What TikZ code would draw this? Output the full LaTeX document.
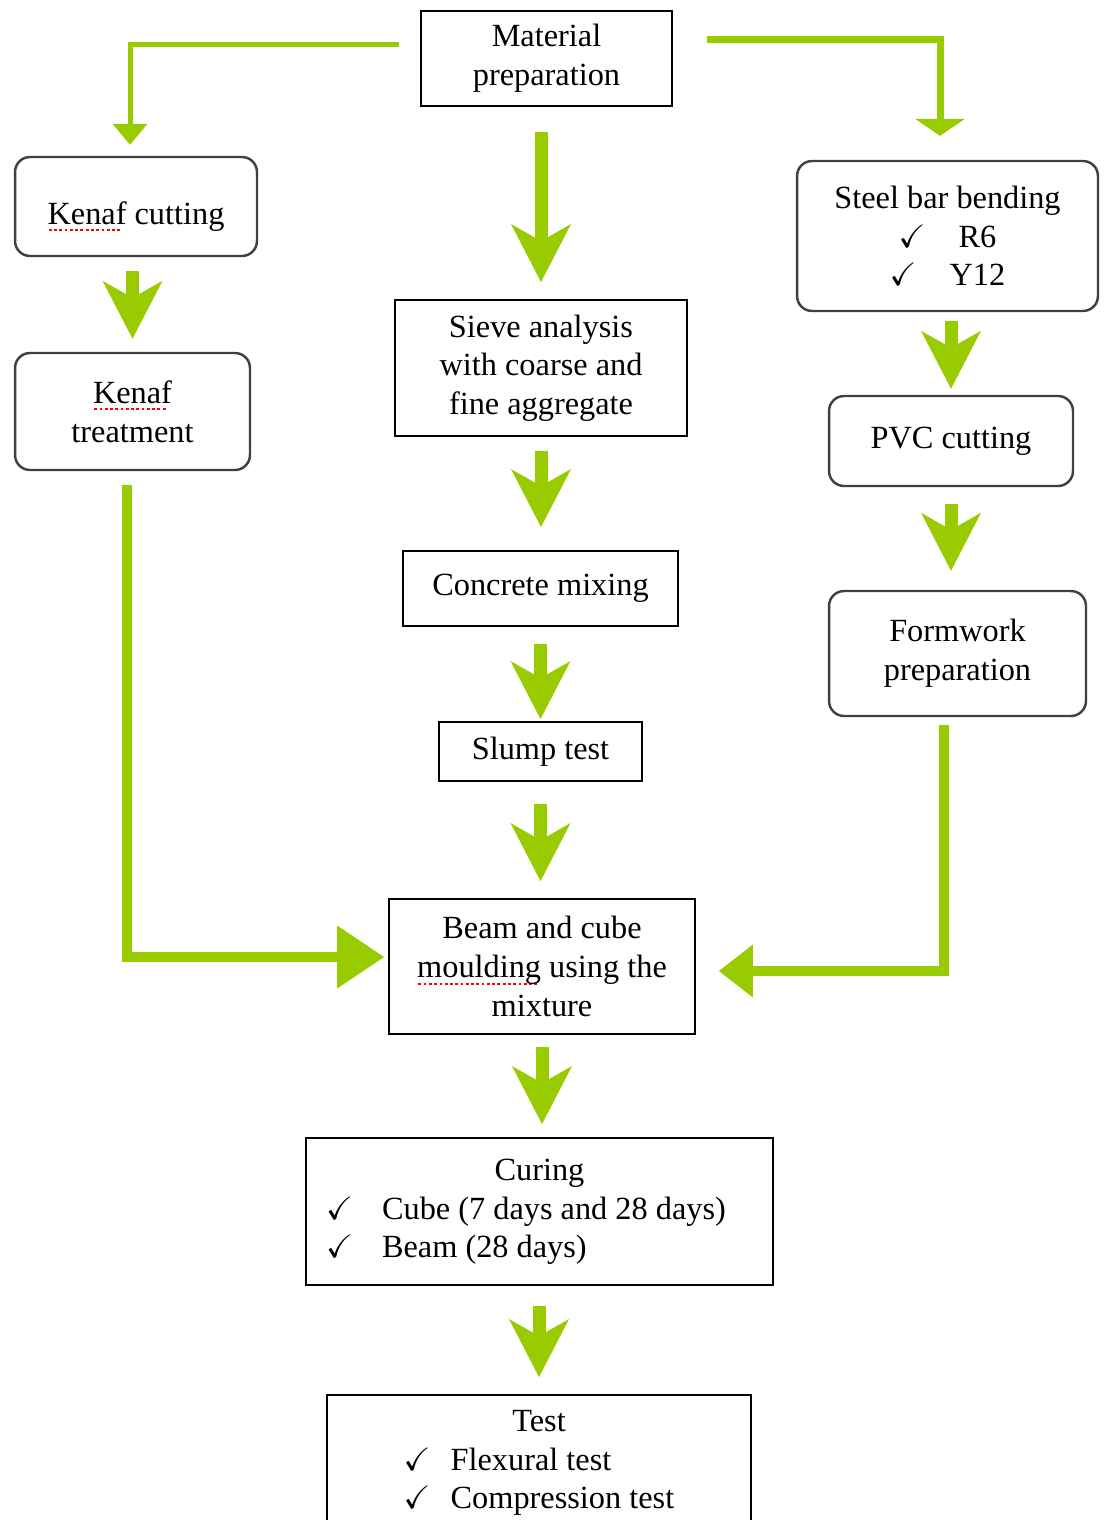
\documentclass[tikz,border=0pt]{standalone}
\usepackage{fontspec}
\setmainfont{Liberation Serif}
\usepackage{amssymb}
\usetikzlibrary{arrows.meta}

\definecolor{flowgreen}{RGB}{153,204,0}
\definecolor{boxgray}{RGB}{64,64,64}

\newcommand\spellwave[1]{\setbox0=\hbox{#1}\rlap{\raisebox{-4pt}{\color{red}\hbox to \wd0{\leaders\hbox to 3pt{\hss\rule{1.6pt}{1.1pt}\hss}\hfill}}}\box0\relax}

\begin{document}
\begin{tikzpicture}[x=0.02cm,y=-0.02cm,
    box/.style={draw=black,line width=1.1pt,align=center,inner sep=0pt,font=\fontsize{18.4}{22}\selectfont},
    rbox/.style={box,draw=boxgray,line width=1.4pt,rounded corners=0.3cm},
    flow/.style={draw=flowgreen,line width=0.26cm,-{Stealth[length=1.16cm,width=1.2cm,inset=0.34cm,line width=0pt]}},
    elbow/.style={draw=flowgreen,line width=0.2cm}]

    \useasboundingbox (0,0) rectangle (1107,1520);

    % middle column
    \node[box,minimum width=5.02cm,minimum height=1.9cm] (mat) at (546.5,58.5) {Material\\preparation};
    \node[box,minimum width=5.84cm,minimum height=2.72cm] (sieve) at (541,368) {Sieve analysis\\with coarse and\\fine aggregate};
    \node[box,minimum width=5.5cm,minimum height=1.5cm] (mix) at (540.5,588.5) {Concrete mixing};
    \node[box,minimum width=4.06cm,minimum height=1.18cm] (slump) at (540.5,751.5) {Slump test};
    \node[box,minimum width=6.12cm,minimum height=2.7cm] (beam) at (542,966.5) {Beam and cube\\\spellwave{moulding} using the\\mixture};
    \node[box,minimum width=9.34cm,minimum height=2.94cm] (cure) at (539.5,1211.5) {\begin{tabular}{@{}l@{\hspace{0.54cm}}}\multicolumn{1}{@{}c@{\hspace{0.54cm}}}{\hspace{0.54cm}Curing}\\$\checkmark$\hspace{0.58cm}Cube (7 days and 28 days)\\$\checkmark$\hspace{0.58cm}Beam (28 days)\end{tabular}};
    \node[box,minimum width=8.48cm,minimum height=2.7cm] (test) at (539,1462.5) {\begin{tabular}{@{}l@{}}\multicolumn{1}{@{}c@{}}{Test}\\$\checkmark$\hspace{0.4cm}Flexural test\\$\checkmark$\hspace{0.4cm}Compression test\end{tabular}};

    % left column
    \node[rbox,minimum width=4.84cm,minimum height=1.98cm,text height=24pt] (kcut) at (136,206.5) {\spellwave{Kenaf} cutting};
    \node[rbox,minimum width=4.7cm,minimum height=2.34cm] (ktreat) at (132.5,411.5) {\spellwave{Kenaf}\\treatment};

    % right column
    \node[rbox,minimum width=6.02cm,minimum height=3cm] (steel) at (947.5,236) {Steel bar bending\\$\checkmark$\hspace{0.66cm}R6\\$\checkmark$\hspace{0.66cm}Y12};
    \node[rbox,minimum width=4.88cm,minimum height=1.8cm] (pvc) at (951,441) {PVC cutting};
    \node[rbox,minimum width=5.14cm,minimum height=2.5cm] (form) at (957.5,653.5) {Formwork\\preparation};

    % short arrows
    \draw[flow,shorten <=0.5cm,shorten >=0.34cm] (mat.south -| sieve.north) -- (sieve.north);
    \draw[flow,shorten <=0.28cm,shorten >=0.46cm] (sieve.south) -- (sieve.south |- mix.north);
    \draw[flow,shorten <=0.34cm,shorten >=0.04cm] (mix.south) -- (mix.south |- slump.north);
    \draw[flow,shorten <=0.44cm,shorten >=0.34cm] (slump.south) -- (slump.south |- beam.north);
    \draw[flow,shorten <=0.24cm,shorten >=0.26cm] (beam.south) -- (beam.south |- cure.north);
    \draw[flow,shorten <=0.4cm,shorten >=0.34cm] (cure.south -| test.north) -- (test.north);
    \draw[flow,shorten <=0.28cm,shorten >=0.26cm] (kcut.south -| ktreat.north) -- (ktreat.north);
    \draw[flow,shorten <=0.18cm,shorten >=0.12cm] (pvc.north |- steel.south) -- (pvc.north);
    \draw[flow,shorten <=0.34cm,shorten >=0.38cm] (pvc.south) -- (pvc.south |- form.north);

    % elbow arrows
    \draw[elbow,line width=0.1cm,-{Triangle[length=0.42cm,width=0.7cm,line width=0pt]}] ([xshift=-0.42cm,yshift=0.27cm]mat.west) -| ([xshift=-0.12cm,yshift=0.22cm]kcut.north);
    \draw[elbow,line width=0.14cm,-{Triangle[length=0.34cm,width=1cm,line width=0pt]}] ([xshift=0.68cm,yshift=0.37cm]mat.east) -| ([xshift=-0.15cm,yshift=0.48cm]steel.north);
    \draw[elbow,-{Triangle[length=0.94cm,width=1.26cm,line width=0pt]}] ([xshift=-0.11cm,yshift=-0.28cm]ktreat.south) |- ([xshift=-0.08cm,yshift=0.19cm]beam.west);
    \draw[elbow,-{Triangle[length=0.68cm,width=1.06cm,line width=0pt]}] ([xshift=-0.27cm,yshift=-0.16cm]form.south) |- ([xshift=0.46cm,yshift=-0.09cm]beam.east);

\end{tikzpicture}
\end{document}
